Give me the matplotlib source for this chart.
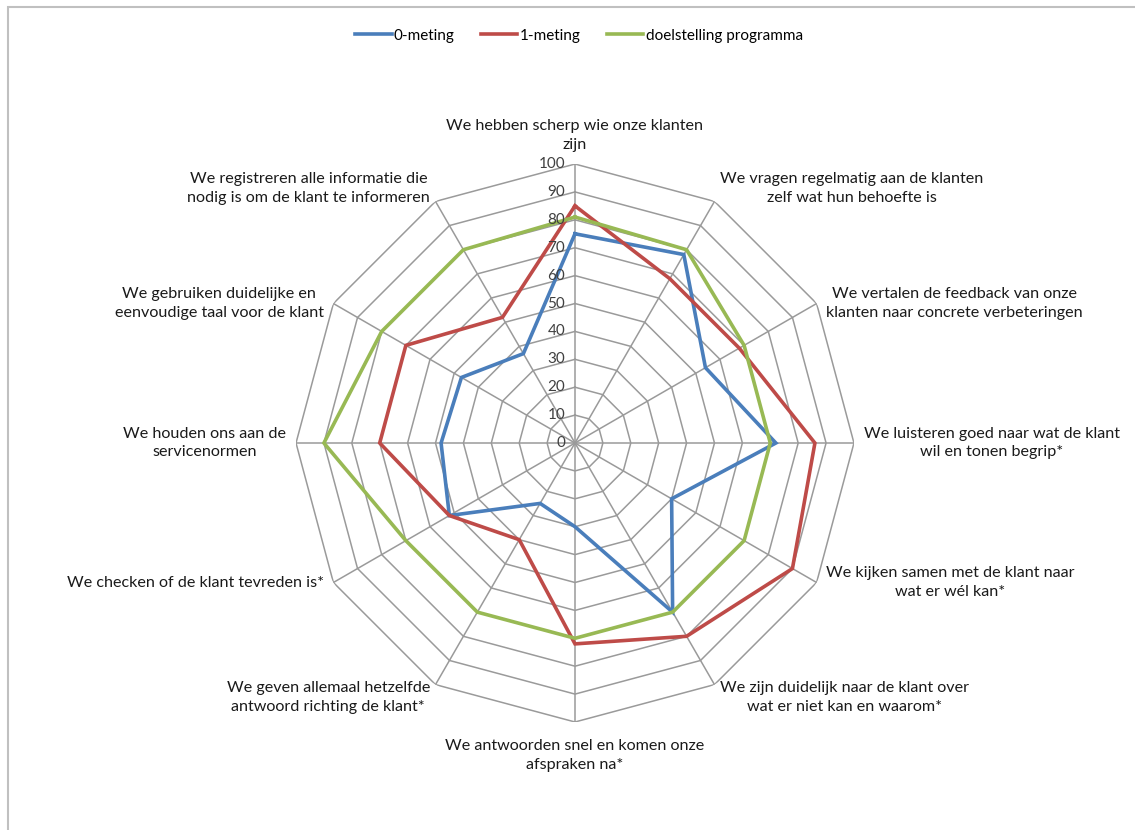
import numpy as np
import matplotlib
matplotlib.use('Agg')
from matplotlib import pyplot as plt
from matplotlib.patches import Rectangle

plt.rcParams['font.family'] = ['Lato', 'DejaVu Sans']

# categories, clockwise from the top
labels = ['We hebben scherp wie onze klanten\nzijn',
          'We vragen regelmatig aan de klanten\nzelf wat hun behoefte is',
          'We vertalen de feedback van onze\nklanten naar concrete verbeteringen',
          'We luisteren goed naar wat de klant\nwil en tonen begrip*',
          'We kijken samen met de klant naar\nwat er wél kan*',
          'We zijn duidelijk naar de klant over\nwat er niet kan en waarom*',
          'We antwoorden snel en komen onze\nafspraken na*',
          'We geven allemaal hetzelfde\nantwoord richting de klant*',
          'We checken of de klant tevreden is*',
          'We houden ons aan de\nservicenormen',
          'We gebruiken duidelijke en\neenvoudige taal voor de klant',
          'We registreren alle informatie die\nnodig is om de klant te informeren']

meting_0 = [75, 78, 54, 72, 40, 70, 30, 25, 52, 48, 47, 37]
meting_1 = [85, 68, 68, 86, 90, 80, 72, 40, 52, 70, 70, 52]
doel = [81, 80, 70, 70, 70, 70, 70, 70, 70, 90, 80, 80]

series_names = ['0-meting', '1-meting', 'doelstelling programma']
series_colors = ['#4a7ebb', '#be4b48', '#98b954']
rticks = list(range(0, 101, 10))

n = len(labels)
theta = np.arange(n) * 2 * np.pi / n
theta_c = np.append(theta, theta[0])

fig = plt.figure(figsize=(11.35, 8.3), dpi=100)
fig.patches.append(Rectangle((8 / 1135, -0.1), 1.2, 1.1 - 7 / 830, transform=fig.transFigure,
                             fill=False, edgecolor='#c0c0c0', linewidth=1.5))

ax = fig.add_axes([0.2608, 0.1301, 0.4916, 0.6723], projection='polar')
ax.set_theta_zero_location('N')
ax.set_theta_direction(-1)
ax.set_ylim(0, 100)
ax.grid(False)
ax.set_xticks([])
ax.set_yticks([])
ax.spines['polar'].set_visible(False)
ax.patch.set_visible(False)

grid_col = '#9a9a9a'
for r in rticks[1:]:
    ax.plot(theta_c, [r] * (n + 1), color=grid_col, lw=1.1, zorder=1)
for t in theta:
    ax.plot([t, t], [0, 100], color=grid_col, lw=1.1, zorder=1)

for vals, name, col in zip([meting_0, meting_1, doel], series_names, series_colors):
    ax.plot(theta_c, vals + vals[:1], color=col, lw=2.6, label=name, zorder=3,
            solid_joinstyle='miter')

# radial value labels
for r in rticks:
    ax.annotate(str(r), xy=(0, r), xytext=(-7, 0), textcoords='offset points',
                ha='right', va='center', fontsize=11, color='#404040', zorder=4)

# category labels
for i, (t, lab) in enumerate(zip(theta, labels)):
    deg = np.degrees(t)
    if i == 0:
        ha, va, off = 'center', 'bottom', (0, 9)
    elif i == 6:
        ha, va, off = 'center', 'top', (0, -12)
    elif deg < 180:
        ha, va = 'left', 'center'
        off = (7, 0) if i != 1 else (4, 9)
        if i == 5:
            off = (4, -9)
    else:
        ha, va = 'right', 'center'
        off = (-7, 0) if i != 11 else (-4, 9)
        if i == 7:
            off = (-4, -9)
    ax.annotate(lab, xy=(t, 100), xytext=off, textcoords='offset points',
                ha=ha, va=va, multialignment='center', fontsize=11.6,
                color='#1a1a1a', linespacing=1.45)

fig.legend(loc='upper center', bbox_to_anchor=(0.51, 0.982), ncol=3, frameon=False,
           fontsize=11, handlelength=2.4, handletextpad=0.15, columnspacing=1.7)

plt.savefig('out.png', dpi=100)
plt.close()
